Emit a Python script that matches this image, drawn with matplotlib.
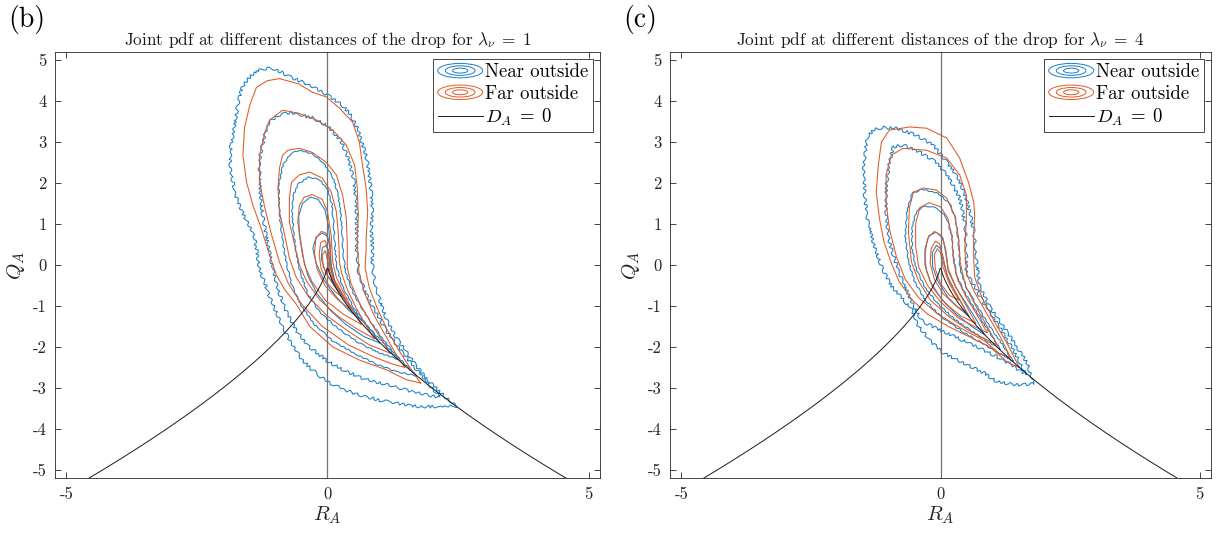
import numpy as np
import matplotlib
matplotlib.use("Agg")
import matplotlib.pyplot as plt
from matplotlib.lines import Line2D
from matplotlib.patches import Ellipse
from matplotlib.legend_handler import HandlerBase

plt.rcParams['font.family'] = 'serif'
plt.rcParams['font.serif'] = ['cmr10', 'DejaVu Serif']
plt.rcParams['mathtext.fontset'] = 'cm'
plt.rcParams['axes.formatter.use_mathtext'] = True

# contour outlines, (R_A, Q_A) pairs, outer level first
near_b = [
    [(2.47, -3.45), (2.15, -3.1), (1.95, -2.85), (1.72, -2.5), (1.5, -2.1), (1.28, -1.7), (1.12, -1.3),
     (1.0, -0.85), (0.9, -0.4), (0.86, 0.0), (0.86, 0.45), (0.84, 0.85), (0.86, 1.3), (0.84, 1.76),
     (0.8, 2.2), (0.76, 2.56), (0.66, 3.0), (0.57, 3.37), (0.4, 3.75), (0.23, 3.95), (0.0, 4.15),
     (-0.25, 4.32), (-0.5, 4.48), (-0.73, 4.6), (-0.95, 4.75), (-1.1, 4.8), (-1.3, 4.78), (-1.45, 4.65),
     (-1.64, 4.34), (-1.72, 3.9), (-1.78, 3.37), (-1.85, 2.9), (-1.87, 2.39), (-1.8, 1.95), (-1.78, 1.76),
     (-1.65, 1.35), (-1.59, 1.17), (-1.45, 0.85), (-1.4, 0.68), (-1.35, 0.3), (-1.3, -0.12), (-1.2, -0.45),
     (-1.11, -0.78), (-0.98, -1.15), (-0.86, -1.51), (-0.68, -1.95), (-0.48, -2.32), (-0.3, -2.55),
     (-0.1, -2.76), (0.1, -2.92), (0.33, -3.05), (0.55, -3.15), (0.75, -3.22), (1.0, -3.3), (1.19, -3.34),
     (1.45, -3.4), (1.76, -3.46), (2.14, -3.46), (2.47, -3.45)],
    [(2.15, -3.22), (1.9, -2.85), (1.6, -2.4), (1.35, -2.0), (1.1, -1.55), (0.9, -1.1), (0.72, -0.65),
     (0.6, -0.2), (0.56, 0.3), (0.56, 0.9), (0.55, 1.5), (0.5, 2.1), (0.4, 2.6), (0.25, 3.05), (0.0, 3.4),
     (-0.3, 3.6), (-0.7, 3.72), (-0.9, 3.68), (-1.11, 3.49), (-1.2, 3.2), (-1.3, 2.6), (-1.3, 2.0),
     (-1.27, 1.46), (-1.2, 0.9), (-1.12, 0.4), (-1.05, -0.1), (-0.95, -0.6), (-0.8, -1.1), (-0.6, -1.6),
     (-0.35, -2.0), (0.0, -2.35), (0.35, -2.6), (0.74, -2.8), (1.1, -2.9), (1.5, -3.05), (1.8, -3.15),
     (2.15, -3.22)],
    [(1.7, -2.7), (1.55, -2.5), (1.35, -2.25), (1.05, -1.8), (0.75, -1.25), (0.5, -0.7), (0.35, -0.2),
     (0.3, 0.3), (0.28, 0.8), (0.25, 1.3), (0.2, 1.75), (0.1, 2.15), (-0.08, 2.5), (-0.3, 2.72),
     (-0.55, 2.8), (-0.7, 2.72), (-0.85, 2.45), (-0.93, 2.0), (-0.93, 1.5), (-0.9, 1.0), (-0.85, 0.5),
     (-0.78, 0.0), (-0.68, -0.5), (-0.5, -1.0), (-0.25, -1.45), (0.1, -1.85), (0.5, -2.15), (0.9, -2.4),
     (1.3, -2.6), (1.7, -2.7)],
    [(1.35, -2.3), (1.1, -1.93), (0.8, -1.55), (0.5, -1.05), (0.28, -0.5), (0.17, 0.0), (0.14, 0.5),
     (0.12, 1.0), (0.08, 1.5), (0.0, 1.85), (-0.15, 2.08), (-0.35, 2.15), (-0.55, 2.0), (-0.66, 1.7),
     (-0.68, 1.3), (-0.65, 0.8), (-0.6, 0.3), (-0.52, -0.2), (-0.38, -0.7), (-0.15, -1.15), (0.2, -1.55),
     (0.6, -1.9), (1.0, -2.15), (1.35, -2.3)],
    [(1.0, -1.9), (0.85, -1.62), (0.62, -1.3), (0.35, -0.88), (0.15, -0.45), (0.07, 0.0), (0.05, 0.5),
     (0.02, 0.95), (-0.05, 1.35), (-0.18, 1.6), (-0.33, 1.66), (-0.48, 1.5), (-0.55, 1.2), (-0.54, 0.75),
     (-0.48, 0.25), (-0.38, -0.25), (-0.2, -0.7), (0.05, -1.1), (0.35, -1.45), (0.7, -1.75), (1.0, -1.9)],
    [(0.65, -1.35), (0.5, -1.12), (0.3, -0.8), (0.12, -0.35), (0.06, 0.05), (0.05, 0.4), (0.0, 0.7),
     (-0.1, 0.78), (-0.22, 0.68), (-0.28, 0.4), (-0.22, 0.05), (-0.08, -0.35), (0.15, -0.75), (0.4, -1.1),
     (0.65, -1.35)],
    [(0.35, -0.85), (0.25, -0.65), (0.12, -0.35), (0.04, 0.0), (0.03, 0.3), (-0.03, 0.48), (-0.1, 0.42),
     (-0.12, 0.15), (-0.03, -0.2), (0.15, -0.55), (0.35, -0.85)],
]

far_b = [
    [(1.78, -2.88), (1.55, -2.45), (1.35, -2.05), (1.15, -1.6), (0.95, -1.05), (0.8, -0.55), (0.72, -0.07),
     (0.74, 0.37), (0.74, 0.66), (0.77, 1.3), (0.74, 1.88), (0.67, 2.44), (0.61, 3.0), (0.48, 3.49),
     (0.23, 3.83), (-0.02, 4.1), (-0.29, 4.22), (-0.55, 4.42), (-0.92, 4.55), (-1.15, 4.5), (-1.36, 4.34),
     (-1.49, 3.9), (-1.59, 3.34), (-1.62, 2.68), (-1.55, 2.02), (-1.43, 1.46), (-1.27, 0.9), (-1.11, 0.24),
     (-0.98, -0.24), (-0.82, -0.6), (-0.6, -0.95), (-0.34, -1.5), (0.1, -2.0), (0.61, -2.32),
     (1.13, -2.56), (1.51, -2.8), (1.78, -2.88)],
    [(1.48, -2.5), (1.3, -2.15), (1.1, -1.7), (0.88, -1.2), (0.7, -0.65), (0.6, -0.15), (0.57, 0.56),
     (0.59, 1.22), (0.57, 1.88), (0.52, 2.44), (0.36, 2.93), (0.1, 3.29), (-0.21, 3.54), (-0.54, 3.7),
     (-0.86, 3.78), (-1.11, 3.54), (-1.2, 3.24), (-1.3, 2.68), (-1.3, 2.02), (-1.2, 1.39), (-1.07, 0.73),
     (-0.92, 0.07), (-0.75, -0.45), (-0.5, -0.95), (-0.1, -1.5), (0.4, -1.95), (0.9, -2.25), (1.25, -2.42),
     (1.48, -2.5)],
    [(1.2, -2.15), (1.05, -1.85), (0.85, -1.45), (0.62, -0.95), (0.45, -0.45), (0.38, -0.07), (0.38, 0.49),
     (0.36, 1.15), (0.29, 1.7), (0.17, 2.2), (-0.02, 2.5), (-0.29, 2.75), (-0.54, 2.85), (-0.76, 2.8),
     (-0.86, 2.68), (-0.92, 2.37), (-0.95, 1.88), (-0.92, 1.3), (-0.82, 0.73), (-0.73, 0.17), (-0.6, -0.3),
     (-0.35, -0.8), (0.0, -1.25), (0.4, -1.62), (0.8, -1.95), (1.2, -2.15)],
    [(0.9, -1.8), (0.75, -1.5), (0.55, -1.05), (0.38, -0.6), (0.27, -0.2), (0.23, 0.07), (0.21, 0.73),
     (0.17, 1.3), (0.07, 1.79), (-0.1, 2.12), (-0.34, 2.27), (-0.54, 2.2), (-0.69, 2.02), (-0.73, 1.63),
     (-0.73, 1.05), (-0.63, 0.49), (-0.54, 0.0), (-0.4, -0.4), (-0.15, -0.85), (0.2, -1.25), (0.55, -1.55),
     (0.9, -1.8)],
    [(0.65, -1.45), (0.5, -1.15), (0.32, -0.7), (0.17, -0.3), (0.1, 0.07), (0.07, 0.73), (0.0, 1.3),
     (-0.1, 1.6), (-0.29, 1.72), (-0.45, 1.65), (-0.54, 1.45), (-0.57, 1.05), (-0.5, 0.49), (-0.44, 0.0),
     (-0.3, -0.4), (-0.05, -0.85), (0.3, -1.2), (0.65, -1.45)],
    [(0.45, -1.1), (0.25, -0.62), (0.1, -0.3), (0.05, 0.05), (0.05, 0.5), (-0.03, 0.78), (-0.12, 0.82),
     (-0.22, 0.65), (-0.25, 0.3), (-0.2, -0.1), (-0.05, -0.5), (0.2, -0.85), (0.45, -1.1)],
    [(0.3, -0.8), (0.12, -0.45), (0.03, -0.1), (0.02, 0.35), (-0.05, 0.6), (-0.13, 0.55), (-0.16, 0.25),
     (-0.12, -0.1), (0.0, -0.45), (0.15, -0.65), (0.3, -0.8)],
    [(0.2, -0.55), (0.06, -0.25), (0.0, 0.1), (-0.04, 0.35), (-0.1, 0.25), (-0.08, -0.05), (0.02, -0.3),
     (0.2, -0.55)],
]

near_c = [
    [(1.8, -2.9), (1.67, -2.39), (1.47, -2.0), (1.22, -1.51), (0.95, -1.02), (0.76, -0.54), (0.7, 0.05),
     (0.64, 0.85), (0.58, 1.2), (0.5, 1.6), (0.4, 1.95), (0.25, 2.3), (0.12, 2.51), (-0.14, 2.93),
     (-0.47, 3.17), (-0.85, 3.34), (-1.1, 3.36), (-1.3, 3.3), (-1.42, 3.1), (-1.48, 2.44), (-1.46, 1.63),
     (-1.4, 1.05), (-1.3, 0.56), (-1.2, 0.17), (-1.09, -0.17), (-0.95, -0.5), (-0.75, -0.8), (-0.55, -1.1),
     (-0.45, -1.45), (-0.21, -1.83), (0.05, -2.15), (0.44, -2.39), (0.83, -2.63), (1.09, -2.85),
     (1.47, -2.93), (1.8, -2.9)],
    [(1.65, -2.68), (1.5, -2.3), (1.3, -1.85), (1.05, -1.35), (0.8, -0.85), (0.6, -0.4), (0.5, -0.17),
     (0.5, 0.41), (0.47, 1.05), (0.37, 1.63), (0.17, 2.12), (-0.08, 2.51), (-0.41, 2.76), (-0.72, 2.93),
     (-0.91, 2.88), (-0.99, 2.51), (-1.05, 1.88), (-1.05, 1.22), (-0.99, 0.56), (-0.85, 0.0), (-0.7, -0.5),
     (-0.5, -1.05), (-0.35, -1.38), (0.05, -1.62), (0.5, -1.88), (0.95, -2.15), (1.35, -2.42), (1.65, -2.68)],
    [(1.4, -2.35), (1.2, -1.95), (0.95, -1.5), (0.7, -1.0), (0.5, -0.55), (0.38, -0.1), (0.35, 0.5),
     (0.3, 1.1), (0.18, 1.5), (-0.05, 1.75), (-0.35, 1.85), (-0.55, 1.75), (-0.65, 1.3), (-0.68, 0.7),
     (-0.62, 0.1), (-0.5, -0.4), (-0.3, -0.85), (0.0, -1.25), (0.45, -1.65), (0.9, -1.98), (1.2, -2.2),
     (1.4, -2.35)],
    [(1.15, -2.05), (0.95, -1.65), (0.72, -1.2), (0.5, -0.75), (0.32, -0.3), (0.25, 0.2), (0.22, 0.7),
     (0.12, 1.15), (-0.05, 1.38), (-0.3, 1.45), (-0.47, 1.3), (-0.55, 0.9), (-0.55, 0.4), (-0.47, -0.1),
     (-0.3, -0.55), (-0.05, -0.95), (0.3, -1.35), (0.7, -1.7), (1.15, -2.05)],
    [(0.85, -1.7), (0.7, -1.35), (0.5, -0.95), (0.3, -0.55), (0.15, -0.15), (0.1, 0.3), (0.05, 0.65),
     (-0.08, 0.8), (-0.22, 0.72), (-0.3, 0.4), (-0.3, 0.0), (-0.2, -0.4), (0.0, -0.8), (0.3, -1.2),
     (0.6, -1.5), (0.85, -1.7)],
    [(0.55, -1.25), (0.35, -0.8), (0.15, -0.35), (0.05, 0.1), (0.0, 0.4), (-0.08, 0.48), (-0.16, 0.3),
     (-0.15, -0.05), (-0.05, -0.4), (0.15, -0.8), (0.35, -1.05), (0.55, -1.25)],
]

far_c = [
    [(1.52, -2.5), (1.3, -1.95), (1.05, -1.4), (0.8, -0.8), (0.66, -0.3), (0.64, 0.17), (0.64, 0.73),
     (0.66, 1.22), (0.64, 1.54), (0.54, 2.02), (0.37, 2.61), (0.12, 3.1), (-0.27, 3.34), (-0.6, 3.37),
     (-0.99, 3.29), (-1.14, 3.0), (-1.2, 2.44), (-1.24, 1.78), (-1.18, 1.15), (-1.09, 0.56), (-0.95, 0.05),
     (-0.8, -0.4), (-0.55, -0.85), (-0.25, -1.2), (0.15, -1.5), (0.55, -1.75), (0.95, -2.0), (1.3, -2.38),
     (1.52, -2.5)],
    [(1.35, -2.25), (1.15, -1.75), (0.9, -1.2), (0.65, -0.65), (0.5, -0.2), (0.47, 0.4), (0.5, 1.2),
     (0.5, 1.71), (0.37, 2.2), (0.12, 2.61), (-0.27, 2.8), (-0.72, 2.85), (-0.95, 2.68), (-1.05, 2.2),
     (-1.05, 1.5), (-0.98, 0.85), (-0.85, 0.2), (-0.68, -0.35), (-0.42, -0.8), (-0.05, -1.2), (0.4, -1.55),
     (0.85, -1.85), (1.15, -2.18), (1.35, -2.25)],
    [(1.1, -1.95), (0.9, -1.5), (0.68, -1.0), (0.48, -0.5), (0.38, 0.07), (0.35, 0.66), (0.27, 1.22),
     (0.12, 1.63), (-0.08, 1.83), (-0.33, 1.88), (-0.52, 1.78), (-0.6, 1.4), (-0.62, 0.8), (-0.56, 0.07),
     (-0.42, -0.4), (-0.2, -0.85), (0.15, -1.25), (0.55, -1.6), (0.85, -1.8), (1.1, -1.95)],
    [(0.9, -1.65), (0.72, -1.25), (0.5, -0.8), (0.33, -0.35), (0.25, 0.1), (0.22, 0.7), (0.14, 1.15),
     (0.0, 1.42), (-0.22, 1.52), (-0.4, 1.4), (-0.48, 1.0), (-0.48, 0.45), (-0.42, -0.05), (-0.25, -0.5),
     (0.0, -0.9), (0.35, -1.3), (0.65, -1.5), (0.9, -1.65)],
    [(0.68, -1.42), (0.5, -1.0), (0.3, -0.55), (0.15, -0.1), (0.1, 0.4), (0.02, 0.72), (-0.12, 0.82),
     (-0.25, 0.65), (-0.3, 0.25), (-0.27, -0.15), (-0.15, -0.55), (0.1, -0.95), (0.4, -1.25), (0.68, -1.42)],
    [(0.5, -1.15), (0.3, -0.7), (0.13, -0.25), (0.05, 0.2), (-0.02, 0.52), (-0.1, 0.58), (-0.18, 0.4),
     (-0.2, 0.05), (-0.12, -0.35), (0.05, -0.7), (0.3, -1.0), (0.5, -1.15)],
    [(0.35, -0.85), (0.17, -0.45), (0.05, -0.05), (0.0, 0.3), (-0.06, 0.4), (-0.12, 0.25), (-0.1, -0.1),
     (0.0, -0.45), (0.18, -0.75), (0.35, -0.85)],
]

panel_tags = ["(b)", "(c)"]
lambda_vals = [1, 4]
xticks = [-5, 0, 5]
yticks = [-5, -4, -3, -2, -1, 0, 1, 2, 3, 4, 5]

BLUE = "#1a7fc6"
ORANGE = "#de5a26"
AXC = "0.15"


class HandlerRings(HandlerBase):
    # concentric ellipses, like matlab's contour legend icon
    def create_artists(self, legend, orig_handle, xdescent, ydescent, width, height, fontsize, trans):
        col = orig_handle.get_color()
        cx = width / 2 - xdescent
        cy = height / 2 - ydescent
        out = []
        for f in (1.0, 0.66, 0.34):
            out.append(Ellipse((cx, cy), width * f, height * 1.1 * f, fill=False,
                               edgecolor=col, lw=0.7, transform=trans))
        return out


fig = plt.figure(figsize=(12.19, 5.33), dpi=100)
W, H = 1219, 533
boxes = [(55, 52, 600, 478), (670, 52, 1211, 478)]
data = [(near_b, far_b), (near_c, far_c)]

r_line = np.linspace(-5.4, 5.4, 600)

for i, (x0, y0, x1, y1) in enumerate(boxes):
    ax = fig.add_axes([x0 / W, 1 - y1 / H, (x1 - x0) / W, (y1 - y0) / H])
    near, far = data[i]
    for k, c in enumerate(near):
        rq = np.array(c)
        ln, = ax.plot(rq[:, 0], rq[:, 1], color=BLUE, lw=0.75)
        # sampled-data contours are ragged, outer ones most
        if k < 2:
            ln.set_sketch_params(scale=1.4, length=9, randomness=4)
        elif k < 4:
            ln.set_sketch_params(scale=0.6, length=10, randomness=4)
    for c in far:
        rq = np.array(c)
        ax.plot(rq[:, 0], rq[:, 1], color=ORANGE, lw=0.75)
    ax.axvline(0, color="0.45", lw=0.9)
    # D_A = 27/4 R^2 + Q^3 = 0
    ax.plot(r_line, -np.cbrt(27 / 4 * r_line ** 2), color="0.1", lw=0.7)

    ax.set_xlim(-5.22, 5.22)
    ax.set_ylim(-5.2, 5.2)
    ax.set_xticks(xticks)
    ax.set_xticklabels([str(t) for t in xticks])
    ax.set_yticks(yticks)
    ax.set_yticklabels([str(t) for t in yticks])
    ax.tick_params(direction="in", top=True, right=True, length=4, width=0.6,
                   colors=AXC, labelsize=12, pad=6)
    for s in ax.spines.values():
        s.set_color(AXC)
        s.set_linewidth(0.6)
    ax.set_xlabel("$R_A$", fontsize=15, color=AXC, labelpad=2)
    ax.set_ylabel("$Q_A$", fontsize=15, color=AXC, labelpad=4)
    ax.set_title(r"Joint pdf at different distances of the drop for $\lambda_\nu \;=\; %d$" % lambda_vals[i],
                 fontsize=12.4, color="0.1", pad=5)
    fig.text((x0 - 47) / W, 1 - 20 / H, panel_tags[i], fontsize=20, va="center", ha="left")

    h_near = Line2D([], [], color=BLUE)
    h_far = Line2D([], [], color=ORANGE)
    h_da = Line2D([], [], color="0.1", lw=0.7)
    leg = ax.legend([h_near, h_far, h_da], ["Near outside", "Far outside", "$D_A \\;=\\; 0$"],
                    loc="upper right", fontsize=13.5, fancybox=False, framealpha=1,
                    edgecolor=AXC, handlelength=2.4, handletextpad=0.15, borderaxespad=0.35,
                    labelspacing=0.2, borderpad=0.25,
                    handler_map={h_near: HandlerRings(), h_far: HandlerRings()})
    leg.get_frame().set_linewidth(0.6)

fig.savefig("out.png", dpi=100)
